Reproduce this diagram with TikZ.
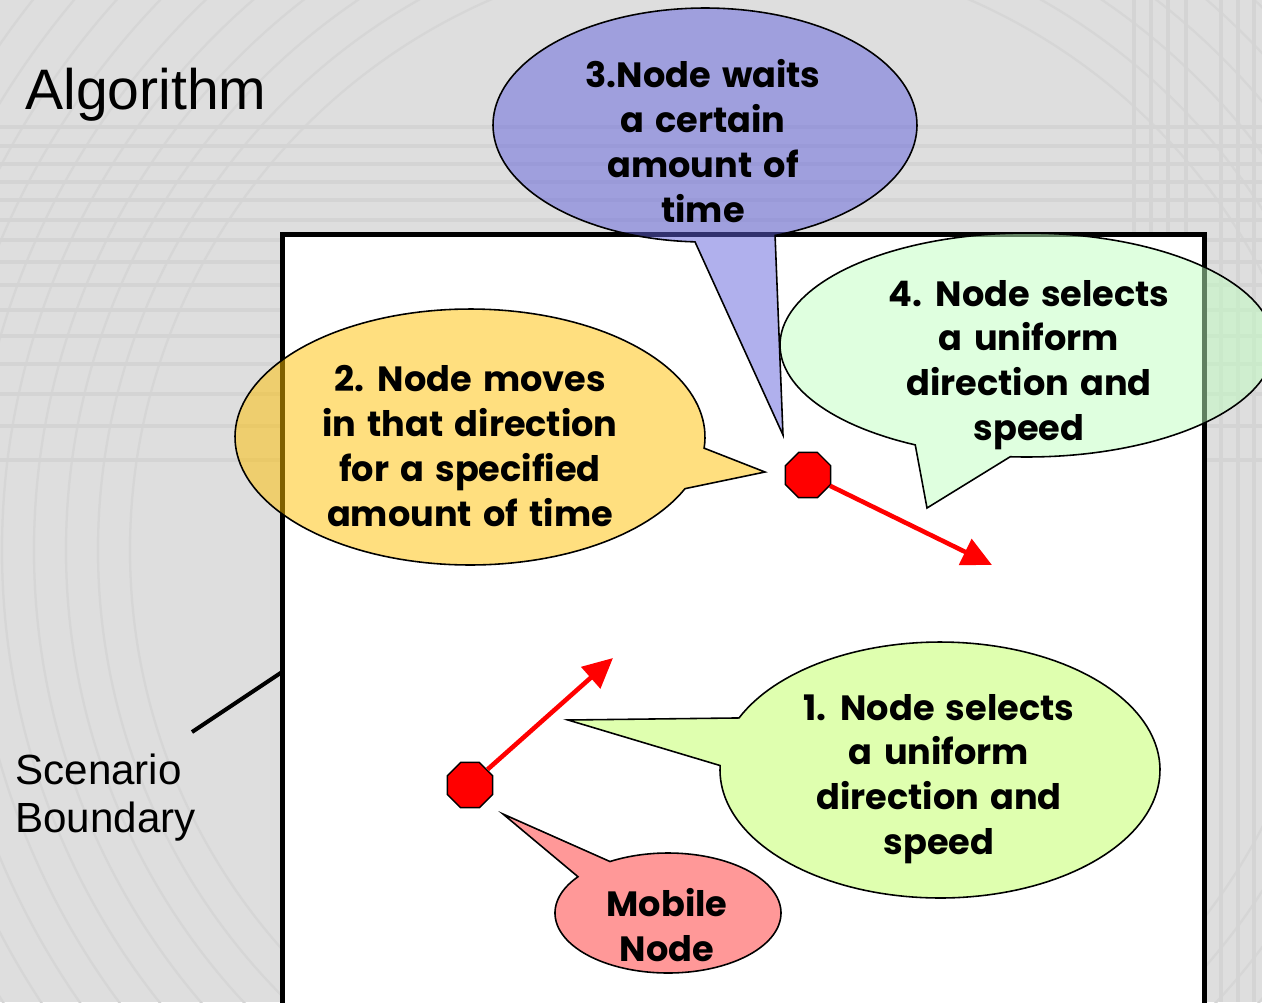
\documentclass[tikz,border=0pt]{standalone}
\usepackage{fontspec}
\setmainfont{Liberation Sans}
\newfontfamily\comic{Poppins}[WordSpace=1.5]
\usetikzlibrary{shapes.geometric,arrows.meta}

\definecolor{bggray}{HTML}{DEDEDE}
\definecolor{bgline}{HTML}{D4D4D4}
\definecolor{bgarc}{HTML}{D6D6D6}
\definecolor{waitblue}{HTML}{6262DD}
\definecolor{moveyellow}{HTML}{FFC000}
\definecolor{againgreen}{HTML}{C1FFC1}
\definecolor{selectgreen}{HTML}{C1FF61}
\definecolor{mobilepink}{HTML}{FF3333}

% speech bubble: ellipse (cx,cy,rx,ry) traced from angle a1 to a2, then out to the tip (tx,ty)
\newcommand\bubble[9]{%
  \filldraw[fill=#9, fill opacity=0.5, draw=black, line width=0.9pt, line join=miter]
    plot[domain=#5:#6, samples=160, variable=\ang] ({#1+#3*cos(\ang)},{#2+#4*sin(\ang)})
    -- (#7,#8) -- cycle;}

\begin{document}
\begin{tikzpicture}[x=0.02cm, y=-0.02cm,
  bubbletext/.style={font=\comic\bfseries\fontsize{20}{25.5}\selectfont, align=center, inner sep=0pt},
  slidetext/.style={font=\fontsize{24}{27}\selectfont, align=left, inner sep=0pt},
  mobile/.style={regular polygon, regular polygon sides=8, minimum size=0.98cm, inner sep=0pt,
    fill=red, draw=black, line width=0.8pt},
  moveline/.style={red, line width=2.6pt, -{Triangle[length=17pt, width=16pt]}},
  bgstroke/.style={bgline, line width=2.2pt}]

\useasboundingbox (0,0) rectangle (1262,1002);
\clip (0,0) rectangle (1262,1002);

% slide background with its faint line pattern
\fill[bggray] (0,0) rectangle (1262,1002);
\foreach \r in {600,632,664,696,728,760,792,824,856,888}
  \draw[bgarc, line width=1.3pt] (730,550) circle[radius=\r];
\foreach \yy in {127,146,164,182,200,220,240,262,285,310,336,364,394,426,460}
  \draw[bgstroke] (0,\yy) -- (1262,\yy);
\foreach \xx in {1134,1151,1168,1186,1221,1238,1254}
  \draw[bgstroke] (\xx,0) -- (\xx,1002);

% scenario boundary
\node (boundary) [draw=black, fill=white, line width=2.8pt, inner sep=0pt,
  minimum width=18.46cm, minimum height=15.6cm] at (743.5,624) {};

% title and boundary label
\node (title) [anchor=base west, font=\fontsize{32.5}{36}\selectfont, inner sep=0pt] at (25,109) {Algorithm};
\node (scen) [slidetext, anchor=north west] at (15,754) {Scenario\\Boundary};
\coordinate (lbl) at (192,732);
\coordinate (edge) at (282,672);
\draw[black, line width=2.3pt] (lbl) -- (edge);

% mobile node positions and their moves
\node (n1) [mobile] at (470,785) {};
\node (n2) [mobile] at (808,475) {};
\coordinate (d1) at (613,658);
\coordinate (d2) at (992,565);
\draw[moveline] (n1) -- (d1);
\draw[moveline] (n2) -- (d2);

% speech bubbles
\bubble{705}{125}{212}{117}{92.7}{430.7}{783}{435}{waitblue}
\bubble{470}{437}{235}{128}{23.8}{365}{765}{472}{moveyellow}
\bubble{1027}{345}{247}{112}{116.9}{453.9}{927}{508}{againgreen}
\bubble{940}{770}{220}{128}{204}{542}{568}{720}{selectgreen}
\bubble{668}{913}{113}{60}{239.1}{577.2}{503}{814}{mobilepink}

\node (wait) [bubbletext] at (703,141) {3.Node waits\\a certain\\amount of\\time};
\node (move) [bubbletext] at (470,446) {2. Node moves\\in that direction\\for a specified\\amount of time};
\node (again) [bubbletext] at (1029,365) {4. Node selects\\a uniform\\direction and\\speed};
\node (select) [bubbletext] at (939,779) {1. Node selects\\a uniform\\direction and\\speed};
\node (mob) [bubbletext] at (667,925) {Mobile\\Node};
\end{tikzpicture}
\end{document}
